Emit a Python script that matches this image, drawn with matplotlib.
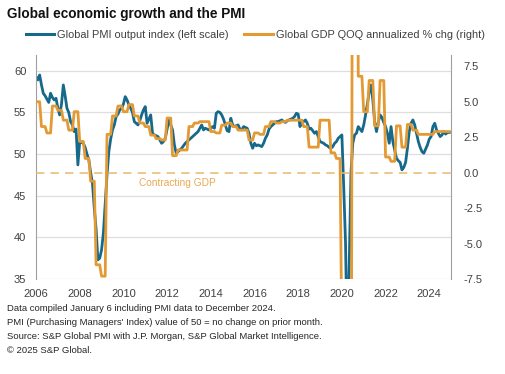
import numpy as np
import matplotlib
matplotlib.use("Agg")
import matplotlib.pyplot as plt

plt.rcParams['font.family'] = ['Liberation Sans', 'DejaVu Sans']

# Global PMI output index, monthly Jan 2006 - Dec 2024 (left scale)
pmi = [
    59.3, 58.9, 59.5, 58.3, 57.3, 57.0, 56.6, 56.2, 57.3, 56.8, 56.5, 56.7,  # 2006
    55.5, 54.7, 56.0, 58.3, 57.0, 55.5, 55.0, 53.9, 53.5, 52.7, 53.0, 48.7,  # 2007
    51.5, 51.4, 51.3, 50.8, 50.0, 49.3, 47.8, 46.5, 43.5, 41.0, 37.3, 37.5,  # 2008
    38.5, 40.5, 43.9, 47.5, 50.3, 51.8, 52.9, 53.5, 54.5, 54.8, 55.3, 55.5,  # 2009
    56.0, 56.9, 56.5, 55.9, 55.5, 55.0, 53.9, 53.7, 53.5, 54.0, 54.7, 55.3,  # 2010
    55.7, 53.7, 54.2, 54.7, 52.5, 52.3, 52.2, 52.1, 51.7, 51.3, 51.5, 51.9,  # 2011
    53.0, 54.1, 53.5, 52.9, 51.1, 50.1, 50.3, 50.5, 50.7, 51.0, 51.3, 51.5,  # 2012
    51.7, 51.9, 52.1, 52.3, 52.5, 52.7, 53.1, 53.5, 52.9, 53.1, 53.0, 52.9,  # 2013
    53.1, 53.3, 53.1, 54.9, 55.1, 55.0, 54.7, 54.2, 53.5, 52.8, 52.7, 54.3,  # 2014
    53.5, 53.3, 53.4, 53.5, 53.0, 52.9, 53.3, 53.2, 53.1, 52.5, 51.3, 50.7,  # 2015
    51.3, 51.0, 51.1, 51.0, 50.9, 51.3, 51.9, 52.3, 53.0, 53.3, 53.5, 53.7,  # 2016
    53.9, 53.9, 54.0, 54.1, 53.9, 53.8, 54.0, 54.1, 54.2, 54.3, 54.5, 54.9,  # 2017
    54.8, 53.3, 54.0, 53.9, 54.1, 53.7, 53.0, 53.1, 52.8, 52.5, 52.7, 52.1,  # 2018
    51.5, 51.4, 51.3, 51.1, 51.0, 50.8, 50.7, 50.9, 51.3, 51.5, 51.9, 52.1,  # 2019
    52.3, 46.1, 39.4, 26.2, 36.3, 47.8, 51.3, 52.3, 52.5, 53.3, 53.0, 52.7,  # 2020
    53.5, 54.7, 56.0, 57.5, 58.3, 56.5, 53.9, 52.7, 53.8, 54.7, 54.4, 53.8,  # 2021
    53.3, 52.5, 51.3, 53.3, 51.5, 50.5, 49.5, 49.2, 49.0, 48.1, 48.4, 49.0,  # 2022
    50.7, 52.7, 53.7, 54.1, 53.5, 52.5, 51.5, 50.8, 50.3, 50.1, 50.6, 51.1,  # 2023
    51.8, 52.1, 53.3, 53.7, 52.9, 52.5, 52.1, 52.3, 52.7, 52.4, 52.6, 52.6,  # 2024
]

# Global GDP QOQ annualized % change, quarterly 2006Q1 - 2024Q4 (right scale)
gdp_q = [
    5.0, 3.25, 2.8, 4.7,     # 2006
    4.4, 3.7, 3.0, 4.3,      # 2007
    2.2, 1.0, -0.6, -6.5,    # 2008
    -7.3, 2.7, 4.0, 4.7,     # 2009
    4.3, 4.8, 4.0, 3.5,      # 2010
    3.25, 2.65, 2.4, 2.3,    # 2011
    3.85, 1.2, 1.6, 1.6,     # 2012
    3.25, 3.5, 3.6, 3.6,     # 2013
    2.9, 2.8, 3.35, 3.5,     # 2014
    3.25, 3.0, 3.0, 2.3,     # 2015
    2.8, 2.7, 3.25, 3.6,     # 2016
    3.5, 3.6, 3.7, 3.7,      # 2017
    3.7, 3.25, 1.8, 1.8,     # 2018
    3.7, 3.7, 1.4, 1.0,      # 2019
    -12.0, -30.0, 35.0, 6.8, # 2020
    4.3, 6.5, 3.3, 6.5,      # 2021
    1.1, 0.8, 3.3, 1.8,      # 2022
    3.4, 3.0, 2.7, 2.7,      # 2023
    2.7, 2.9, 2.9, 2.9,      # 2024
]

year_ticks = list(range(2006, 2025, 2))
left_ticks = [35, 40, 45, 50, 55, 60]
right_ticks = [-7.5, -5.0, -2.5, 0.0, 2.5, 5.0, 7.5]

notes = [
    "Data compiled January 6 including PMI data to December 2024.",
    "PMI (Purchasing Managers' Index) value of 50 = no change on prior month.",
    "Source: S&P Global PMI with J.P. Morgan, S&P Global Market Intelligence.",
    "\u00a9 2025 S&P Global.",
]

blue = "#17698c"
orange = "#e39a33"
txt = "#404040"

# monthly time axis, quarterly gdp held for each month of the quarter
months = 2006 + np.arange(len(pmi)) / 12
gdp_m = np.repeat(gdp_q, 3)

fig = plt.figure(figsize=(5.05, 3.74), dpi=100)
ax = fig.add_axes([0.0713, 0.254, 0.822, 0.599])
ax2 = ax.twinx()

ax.plot(months, pmi, color=blue, lw=2.0)
ax2.plot(months, gdp_m, color=orange, lw=2.0)
ax2.axhline(0, color="#ebb86e", lw=1.1, ls=(0, (5.5, 4)))
ax2.text(2010.72, -0.75, "Contracting GDP", color="#e8aa55", fontsize=7.3, va='center')

ax.set_xlim(2006, 2025)
ax.set_ylim(35, 61.9)
ax2.set_ylim(-7.5, 8.3)

ax.set_xticks(year_ticks)
ax.set_yticks(left_ticks)
ax2.set_yticks(right_ticks)
ax2.set_yticklabels([f"{v:.1f}" for v in right_ticks])

ax.grid(axis='y', color="#dedede", lw=0.9)
ax.set_axisbelow(True)

for a in (ax, ax2):
    a.tick_params(length=0, labelsize=8, labelcolor=txt)
    for s in a.spines.values():
        s.set_visible(False)
ax.spines['left'].set_visible(True)
ax.spines['left'].set_color("#a0a0a0")
ax2.spines['right'].set_visible(True)
ax2.spines['right'].set_color("#a0a0a0")
ax.tick_params(axis='x', pad=7)
ax.tick_params(axis='y', pad=7)
ax2.tick_params(axis='y', pad=9)

fig.text(0.014, 0.963, "Global economic growth and the PMI", fontsize=9.8,
         weight='bold', color="#111111", va='center')

h1, = ax.plot([], [], color=blue, lw=2.2)
h2, = ax.plot([], [], color=orange, lw=2.2)
fig.legend([h1, h2], ["Global PMI output index (left scale)",
                      "Global GDP QOQ annualized % chg (right)"],
           loc='center left', bbox_to_anchor=(0.031, 0.906), ncol=2,
           frameon=False, fontsize=7.9, handlelength=2.6, handletextpad=0.3,
           columnspacing=1.4, labelcolor=txt)

for i, line in enumerate(notes):
    fig.text(0.014, 0.174 - i * 0.0375, line, fontsize=6.8, color="#262626", va='center')

fig.savefig("out.png", dpi=100, facecolor='white')
